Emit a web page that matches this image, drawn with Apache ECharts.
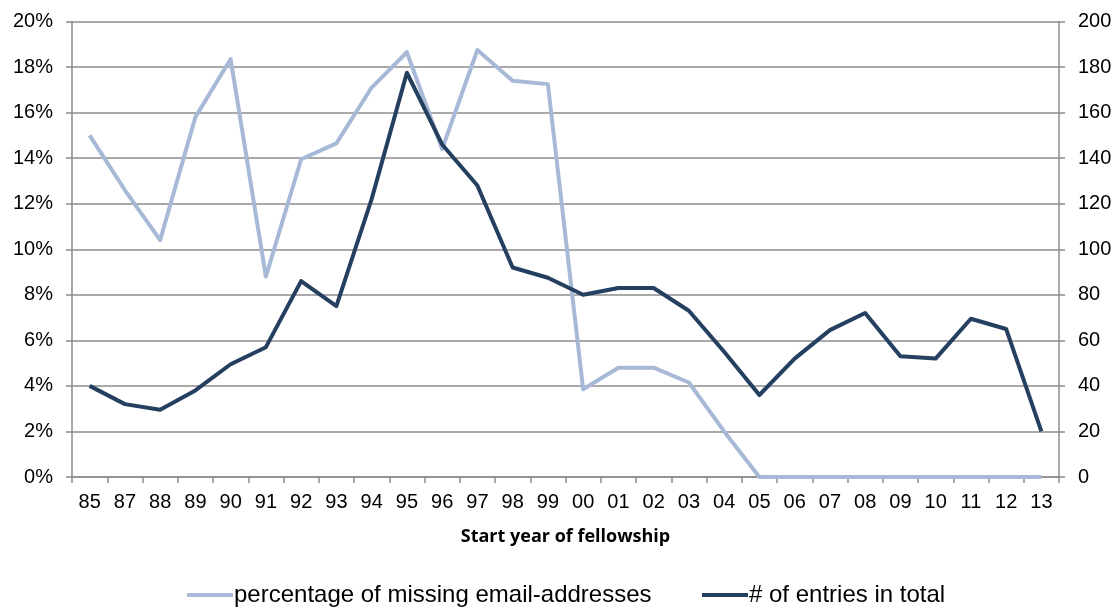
<!DOCTYPE html>
<html>
<head>
<meta charset="utf-8">
<script src="https://cdn.jsdelivr.net/npm/echarts@6/dist/echarts.min.js"></script>
<style>
  html, body { margin: 0; padding: 0; background: #fff; }
  #chart { width: 1119px; height: 608px; }
</style>
</head>
<body>
<div id="chart"></div>
<script>
// Start years of fellowship (two-digit)
const years = ['85','87','88','89','90','91','92','93','94','95','96','97','98','99',
               '00','01','02','03','04','05','06','07','08','09','10','11','12','13'];

// Share of entries without an email address, in percent (left axis)
const missingPct = [15.0, 12.6, 10.4, 15.8, 18.35, 8.8, 13.95, 14.65, 17.1, 18.65, 14.4, 18.75, 17.4, 17.25,
                    3.85, 4.8, 4.8, 4.15, 2.0, 0, 0, 0, 0, 0, 0, 0, 0, 0];

// Number of entries in total (right axis)
const totalEntries = [40, 32, 29.5, 38, 49.5, 57, 86, 75, 122, 177.5, 146, 128, 92, 87.5,
                      80, 83, 83, 73, 55, 36, 52, 64.5, 72, 53, 52, 69.5, 65, 20];

const pctTicks = { min: 0, max: 20, interval: 2 };
const countTicks = { min: 0, max: 200, interval: 20 };

const lightBlue = '#a7b9d6';
const darkBlue = '#243f60';
const gridGray = '#8c8c8c';
const tickFont = { fontFamily: 'Liberation Sans', fontSize: 20, color: '#000' };
const legendText = { fontFamily: 'Liberation Sans', fontSize: 24, color: '#000', padding: [0, 0, 0, -4] };

const chart = echarts.init(document.getElementById('chart'));
chart.setOption({
  animation: false,
  grid: { left: 72, right: 60, top: 21.5, bottom: 131, containLabel: false },
  legend: [
    {
      data: ['percentage of missing email-addresses'],
      left: 182, top: 578,
      itemWidth: 46, itemHeight: 4, itemGap: 0,
      icon: 'rect',
      textStyle: legendText
    },
    {
      data: ['# of entries in total'],
      left: 697, top: 578,
      itemWidth: 46, itemHeight: 4, itemGap: 0,
      icon: 'rect',
      textStyle: legendText
    }
  ],
  xAxis: {
    type: 'category',
    data: years,
    boundaryGap: true,
    name: 'Start year of fellowship',
    nameLocation: 'middle',
    nameGap: 51,
    nameTextStyle: { fontFamily: 'Open Sans', fontWeight: 'bold', fontSize: 18, color: '#000' },
    axisLine: { lineStyle: { color: gridGray, width: 1.5 } },
    axisTick: { show: true, alignWithLabel: false, length: 6, lineStyle: { color: gridGray, width: 1.5 } },
    axisLabel: { ...tickFont, margin: 15, interval: 0 }
  },
  yAxis: [
    {
      type: 'value',
      ...pctTicks,
      position: 'left',
      axisLine: { show: true, lineStyle: { color: gridGray, width: 1.5 } },
      axisTick: { show: true, length: 6, lineStyle: { color: gridGray, width: 1.5 } },
      axisLabel: { ...tickFont, margin: 19, formatter: v => v + '%' },
      splitLine: { show: true, lineStyle: { color: gridGray, width: 1.5 } }
    },
    {
      type: 'value',
      ...countTicks,
      position: 'right',
      axisLine: { show: true, lineStyle: { color: gridGray, width: 1.5 } },
      axisTick: { show: true, length: 6, lineStyle: { color: gridGray, width: 1.5 } },
      axisLabel: { ...tickFont, margin: 19 },
      splitLine: { show: false }
    }
  ],
  series: [
    {
      name: 'percentage of missing email-addresses',
      type: 'line',
      yAxisIndex: 0,
      data: missingPct,
      symbol: 'none',
      lineStyle: { color: lightBlue, width: 4, join: 'round' },
      itemStyle: { color: lightBlue }
    },
    {
      name: '# of entries in total',
      type: 'line',
      yAxisIndex: 1,
      data: totalEntries,
      symbol: 'none',
      lineStyle: { color: darkBlue, width: 4, join: 'round' },
      itemStyle: { color: darkBlue }
    }
  ]
});
</script>
</body>
</html>
